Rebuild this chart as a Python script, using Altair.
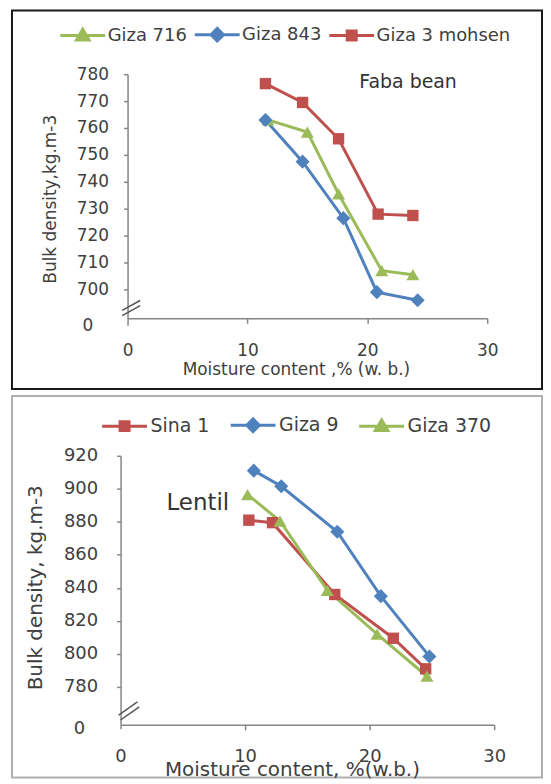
import altair as alt
import pandas as pd

FONT = "DejaVu Sans"
TXT = "#404040"
AXC = "#868686"

# ---------------- Faba bean panel data ----------------
faba_series = ["Giza 716", "Giza 843", "Giza 3 mohsen"]
faba_colors = ["#9BBB59", "#4F81BD", "#C0504D"]
faba_marks = ["triangle-up", "diamond", "square"]
giza716_x = [11.7, 15.0, 17.6, 21.2, 23.8]
giza716_y = [763.0, 758.5, 735.5, 707.0, 705.5]
giza843_x = [11.5, 14.6, 18.0, 20.8, 24.2]
giza843_y = [763.0, 747.5, 726.5, 699.0, 696.0]
mohsen_x = [11.5, 14.6, 17.6, 20.9, 23.8]
mohsen_y = [776.5, 769.5, 756.0, 728.0, 727.5]
faba_xticks = [0, 10, 20, 30]
faba_yticks = [686.7, 700, 710, 720, 730, 740, 750, 760, 770, 780]
faba_break_x = [-0.45, -0.45]
faba_break_x2 = [1.05, 1.05]
faba_break_y = [690.3, 692.2]
faba_break_y2 = [694.0, 695.9]
faba_note = ["Faba bean"]
faba_note_x = [23.4]
faba_note_y = [777.0]

# ---------------- Lentil panel data ----------------
lentil_series = ["Sina 1", "Giza 9", "Giza 370"]
lentil_colors = ["#C0504D", "#4F81BD", "#9BBB59"]
lentil_marks = ["square", "diamond", "triangle-up"]
sina1_x = [10.3, 12.2, 17.2, 21.9, 24.5]
sina1_y = [881.0, 879.5, 836.0, 809.5, 791.0]
giza9_x = [10.7, 12.9, 17.4, 20.9, 24.8]
giza9_y = [911.0, 901.5, 874.0, 835.0, 798.5]
giza370_x = [10.2, 12.8, 16.6, 20.6, 24.6]
giza370_y = [896.5, 880.5, 838.5, 812.0, 786.5]
lentil_xticks = [0, 10, 20, 30]
lentil_yticks = [754.7, 780, 800, 820, 840, 860, 880, 900, 920]
lentil_break_x = [-0.15, 0.0]
lentil_break_x2 = [1.35, 1.5]
lentil_break_y = [763.0, 760.0]
lentil_break_y2 = [771.0, 768.0]
lentil_note = ["Lentil"]
lentil_note_x = [6.2]
lentil_note_y = [891.5]

# legend symbols: a line with its marker (unit coordinates of the symbol)
LEGEND_PATH = {
    "triangle-up": "M-1,0L1,0M0,-0.28L0.28,0.2L-0.28,0.2Z",
    "diamond": "M-1,0L1,0M-0.28,0L0,-0.28L0.28,0L0,0.28Z",
    "square": "M-1,0L1,0M-0.2,-0.2L0.2,-0.2L0.2,0.2L-0.2,0.2Z",
}
MARK_SIZE = {"triangle-up": 170, "diamond": 200, "square": 130}


def series_frame(names, xs, ys):
    rows = []
    for n, xv, yv in zip(names, xs, ys):
        for a, b in zip(xv, yv):
            rows.append({"series": n, "x": a, "y": b})
    return pd.DataFrame(rows)


def make_panel(df, names, colors, marks, c):
    xs = alt.Scale(domain=[0, 30], range=c["xrange"], nice=False, zero=False)
    ys = alt.Scale(domain=c["ydomain"], range=c["yrange"], nice=False, zero=False)
    low = c["ydomain"][0] + 3
    x_axis = alt.Axis(
        values=c["xticks"], offset=c["xoff"], grid=False, format="d",
        domainColor=AXC, domainWidth=1.5, tickColor=AXC, tickWidth=1.5, tickSize=5,
        tickOpacity={"condition": {"test": "datum.value == 0", "value": 0}, "value": 1},
        labelFont=FONT, labelFontSize=c["tickfs"], labelColor=TXT, labelPadding=27,
        labelBaseline="middle", labelFlush=False, labelOverlap=False,
        titleFont=FONT, titleFontSize=c["xtitlefs"], titleColor=TXT, titleFontWeight="normal",
        titleX=c["xtitleX"], titleY=c["xtitleY"], titleBaseline="middle", titleAlign="center",
    )
    y_axis = alt.Axis(
        values=c["yticks"], offset=c["yoff"], grid=False,
        labelExpr="datum.value < %g ? '0' : format(datum.value, 'd')" % low,
        domainColor=AXC, domainWidth=1.5, tickColor=AXC, tickWidth=1.5, tickSize=4,
        tickOpacity={"condition": {"test": "datum.value < %g" % low, "value": 0}, "value": 1},
        labelFont=FONT, labelFontSize=c["tickfs"], labelColor=TXT,
        labelPadding={"condition": {"test": "datum.value < %g" % low, "value": c["zeropad"]},
                      "value": c["ylabpad"]},
        labelFlush=False, labelOverlap=False,
        titleFont=FONT, titleFontSize=c["ytitlefs"], titleColor=TXT, titleFontWeight="normal",
        titleX=c["ytitleX"], titleY=c["ytitleY"], titleAngle=270, titleBaseline="middle",
        titleAlign="center",
    )
    x_enc = alt.X("x:Q", scale=xs, axis=x_axis, title=c["xtitle"])
    y_enc = alt.Y("y:Q", scale=ys, axis=y_axis, title=c["ytitle"])

    leg = alt.Legend(
        orient="none", legendX=c["legX"], legendY=c["legY"], direction="horizontal",
        title=None, symbolSize=c["symsize"], symbolStrokeWidth=3, symbolOpacity=1,
        labelFont=FONT, labelFontSize=c["legfs"], labelColor=TXT, labelOffset=c["laboff"],
        columnPadding=c["colpad"], labelLimit=400,
    )
    color_enc = alt.Color("series:N", scale=alt.Scale(domain=names, range=colors), legend=leg)

    lines = alt.Chart(df).mark_line(strokeWidth=3).encode(x=x_enc, y=y_enc, color=color_enc)
    layers = [lines]
    for n, m in zip(names, marks):
        layers.append(
            alt.Chart(df).transform_filter(alt.datum.series == n)
            .mark_point(shape=m, filled=True, size=MARK_SIZE[m], opacity=1)
            .encode(x=x_enc, y=y_enc, color=color_enc)
        )
    bdf = pd.DataFrame({"x": c["bx"], "x2": c["bx2"], "y": c["by"], "y2": c["by2"]})
    layers.append(
        alt.Chart(bdf).mark_rule(color="#555555", strokeWidth=1.5).encode(
            x=x_enc, y=y_enc, x2="x2:Q", y2="y2:Q")
    )
    ndf = pd.DataFrame({"x": c["nx"], "y": c["ny"], "label": c["note"]})
    layers.append(
        alt.Chart(ndf).mark_text(font=FONT, fontSize=c["notefs"], color="#333333",
                                 align="center", baseline="middle")
        .encode(x=x_enc, y=y_enc, text="label:N")
    )
    # invisible layer that only gives the legend its line-and-marker symbols
    layers.append(
        alt.Chart(df).mark_point(filled=True, opacity=0).encode(
            x=x_enc, y=y_enc,
            fill=alt.Fill("series:N", scale=alt.Scale(domain=names, range=colors), legend=leg),
            stroke=alt.Stroke("series:N", scale=alt.Scale(domain=names, range=colors), legend=leg),
            shape=alt.Shape("series:N",
                            scale=alt.Scale(domain=names, range=[LEGEND_PATH[m] for m in marks]),
                            legend=leg),
        )
    )
    vb = alt.ViewBackground(stroke=c["border"], strokeWidth=c["borderw"])
    return alt.layer(*layers).properties(width=c["w"], height=c["h"], view=vb)


faba_df = series_frame(faba_series, [giza716_x, giza843_x, mohsen_x],
                       [giza716_y, giza843_y, mohsen_y])
lentil_df = series_frame(lentil_series, [sina1_x, giza9_x, giza370_x],
                         [sina1_y, giza9_y, giza370_y])

top = make_panel(
    faba_df, faba_series, faba_colors, faba_marks,
    dict(w=532, h=380, xrange=[116, 477], ydomain=[686.7, 780], yrange=[316, 64],
         xticks=faba_xticks, yticks=faba_yticks, xoff=-71, yoff=-116,
         tickfs=17, xtitlefs=17, ytitlefs=17, ylabpad=15, zeropad=31,
         xtitle="Moisture content ,% (w. b.)", ytitle="Bulk density,kg.m-3",
         xtitleX=285, xtitleY=51, ytitleX=-77, ytitleY=189,
         bx=faba_break_x, bx2=faba_break_x2, by=faba_break_y, by2=faba_break_y2,
         nx=faba_note_x, ny=faba_note_y, note=faba_note, notefs=19,
         legX=47, legY=0, symsize=2025, legfs=18, laboff=1, colpad=1,
         border="#1a1a1a", borderw=2),
)

bottom = make_panel(
    lentil_df, lentil_series, lentil_colors, lentil_marks,
    dict(w=532, h=383, xrange=[109, 484], ydomain=[754.7, 920], yrange=[334, 60],
         xticks=lentil_xticks, yticks=lentil_yticks, xoff=-53, yoff=-109,
         tickfs=18, xtitlefs=20, ytitlefs=20, ylabpad=19, zeropad=32,
         xtitle="Moisture content, %(w.b.)", ytitle="Bulk density, kg.m-3",
         xtitleX=281, xtitleY=45, ytitleX=-85, ytitleY=192,
         bx=lentil_break_x, bx2=lentil_break_x2, by=lentil_break_y, by2=lentil_break_y2,
         nx=lentil_note_x, ny=lentil_note_y, note=lentil_note, notefs=23,
         legX=89, legY=5, symsize=2025, legfs=19, laboff=2, colpad=14,
         border="#b0b0b0", borderw=2),
)

chart = (
    alt.vconcat(top, bottom, spacing=5)
    .resolve_scale(color="independent", fill="independent", stroke="independent",
                   shape="independent")
    .properties(padding={"left": 3, "top": 0, "right": 0, "bottom": 0})
)

chart.save("out.html", embed_options={"renderer": "svg", "actions": False})
